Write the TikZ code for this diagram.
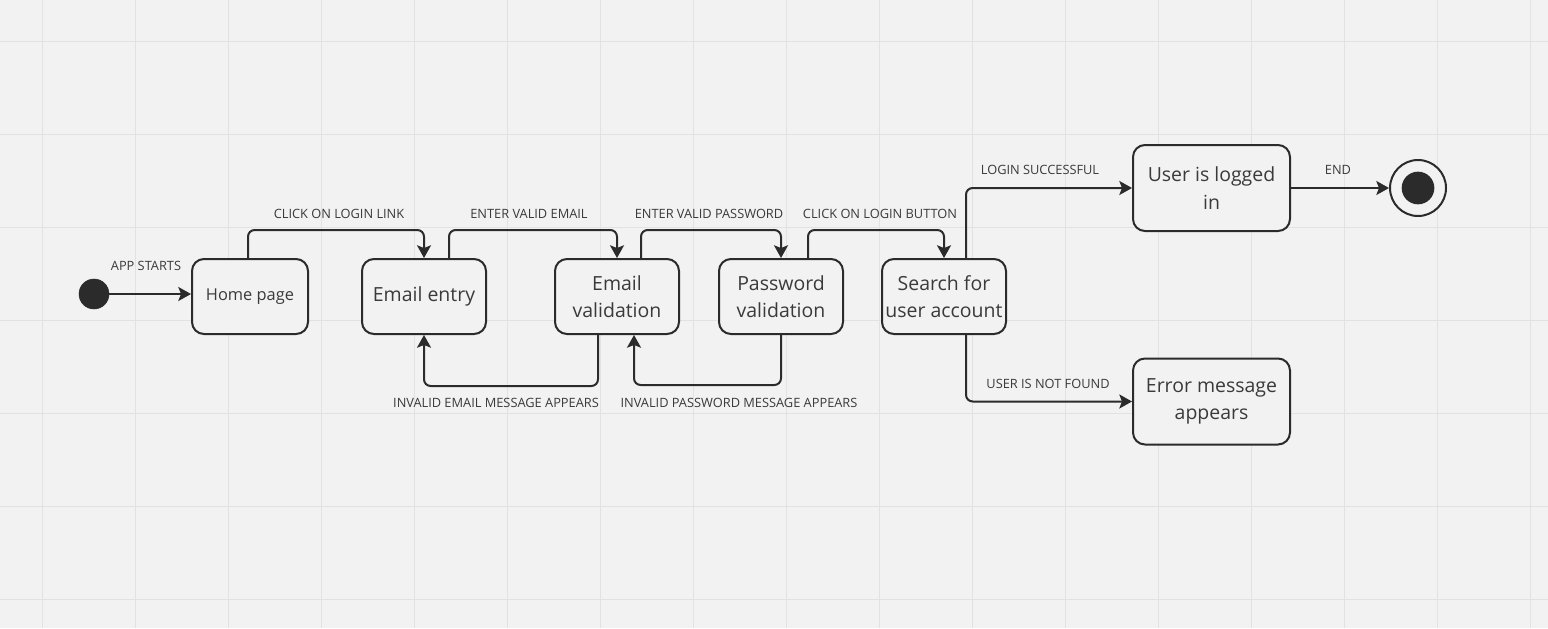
\documentclass[tikz,border=0pt]{standalone}
\usepackage{fontspec}
\setmainfont{Open Sans}
\usetikzlibrary{arrows.meta,calc}
\definecolor{bg}{HTML}{F2F2F2}
\definecolor{gridc}{HTML}{E2E2E2}
\definecolor{ink}{HTML}{2B2B2B}
\definecolor{txt}{HTML}{3A3A3A}
\tikzset{
  state/.style={draw=ink, line width=1.5pt, rounded corners=9pt, fill=bg, align=center, text=txt,
    font=\fontsize{14.6}{20.5}\selectfont, inner sep=0pt, minimum width=93pt, minimum height=56.25pt},
  conn/.style={draw=ink, line width=1.5pt, rounded corners=5pt, -{Stealth[length=9.5pt,width=10.5pt,inset=2pt]}},
  lbl/.style={text=txt, font=\fontsize{9.6}{11}\selectfont, inner sep=0pt},
  gridline/.style={draw=gridc, line width=1.1pt}
}
\begin{document}
\begin{tikzpicture}[x=0.75pt,y=-0.75pt]
\fill[bg] (0,0) rectangle (1548,628);
\useasboundingbox (0,0) rectangle (1548,628);
\foreach \gx in {42.5,135.5,...,1548} \draw[gridline] (\gx,0) -- (\gx,628);
\foreach \gy in {41.5,134.5,...,628} \draw[gridline] (0,\gy) -- (1548,\gy);

\node[circle, fill=ink, draw=ink, minimum size=22.5pt, inner sep=0pt] (init) at (94,294) {};
\node[state, font=\fontsize{12.3}{17}\selectfont, minimum width=87pt] (home) at (250,296.5) {Home page};
\node[state] (ee) at (424,296.5) {Email entry};
\node[state] (ev) at (617,296.5) {Email\\validation};
\node[state] (pv) at (781,296.5) {Password\\validation};
\node[state] (su) at (944,296.5) {Search for\\user account};
\node[state, minimum width=117.75pt, minimum height=64.5pt] (li) at (1211.5,188) {User is logged\\in};
\node[state, minimum width=117.75pt, minimum height=64.5pt] (er) at (1211.5,401.5) {Error message\\appears};
\node[circle, draw=ink, line width=1.5pt, fill=bg, minimum size=42pt, inner sep=0pt] (fin) at (1418,188) {};
\node[circle, fill=ink, minimum size=24.5pt, inner sep=0pt] (finin) at (fin.center) {};

\draw[conn] (init) -- (init -| home.west);
\draw[conn] ([xshift=-1.5pt]home.north) -- ++(0,-28) -| (ee.north);
\draw[conn] ([xshift=18.75pt]ee.north) -- ++(0,-28) -| (ev.north);
\draw[conn] ([xshift=18pt]ev.north) -- ++(0,-28) -| (pv.north);
\draw[conn] ([xshift=20.25pt]pv.north) -- ++(0,-28) -| (su.north);
\draw[conn] ([xshift=16.5pt]su.north) |- (li.west);
\draw[conn] (li.east) -- (fin.west);
\draw[conn] ([xshift=16.5pt]su.south) |- (er.west);
\draw[conn] ([xshift=-14.25pt]ev.south) -- ++(0,51) -| (ee.south);
\draw[conn] (pv.south) -- ++(0,50) -| ([xshift=12.75pt]ev.south);

\node[lbl] (l0) at (146,266) {APP STARTS};
\node[lbl] (l1) at (339,214) {CLICK ON LOGIN LINK};
\node[lbl] (l2) at (529,214) {ENTER VALID EMAIL};
\node[lbl] (l3) at (709,214) {ENTER VALID PASSWORD};
\node[lbl] (l4) at (880,214) {CLICK ON LOGIN BUTTON};
\node[lbl] (l5) at (1040,170) {LOGIN SUCCESSFUL};
\node[lbl] (l6) at (1338,170) {END};
\node[lbl] (l7) at (1048,384) {USER IS NOT FOUND};
\node[lbl] (l8) at (496,403) {INVALID EMAIL MESSAGE APPEARS};
\node[lbl] (l9) at (739,403) {INVALID PASSWORD MESSAGE APPEARS};
\end{tikzpicture}
\end{document}
